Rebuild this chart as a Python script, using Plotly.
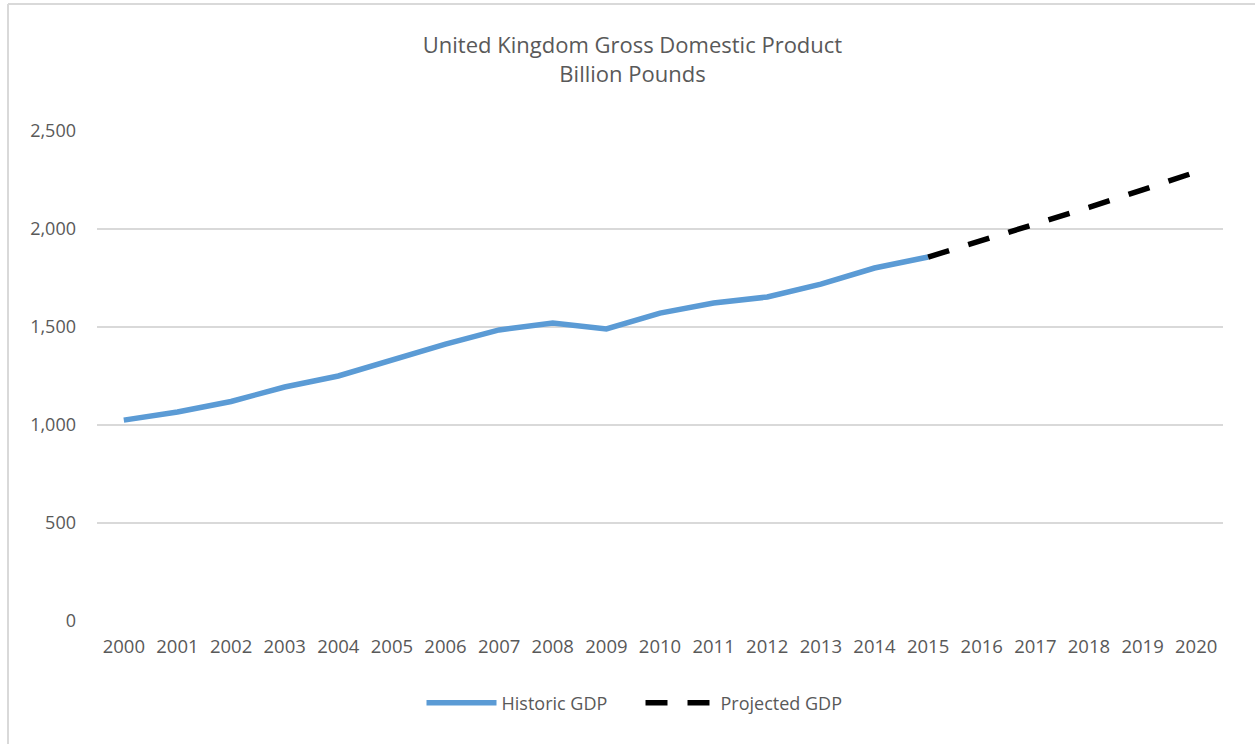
import plotly.graph_objects as go

years = [str(y) for y in range(2000, 2021)]
historic_gdp = [1025, 1066, 1120, 1194, 1250, 1332, 1413, 1485, 1520, 1490,
                1571, 1622, 1653, 1719, 1801, 1857,
                None, None, None, None, None]
projected_gdp = [None] * 15 + [1857, 1940, 2025, 2110, 2200, 2291]
y_ticks = [0, 500, 1000, 1500, 2000, 2500]
y_tick_labels = ["0", "500", "1,000", "1,500", "2,000", "2,500"]

W, H = 1255, 744
ML, MR, MT, MB = 97, 32, 131, 123
PW, PH = W - ML - MR, H - MT - MB

FONT = "Open Sans"
GRAY = "#595959"

fig = go.Figure()
fig.add_trace(go.Scatter(
    x=years, y=historic_gdp, mode="lines", name="Historic GDP",
    line=dict(color="#5B9BD5", width=5.5), connectgaps=False,
))
fig.add_trace(go.Scatter(
    x=years, y=projected_gdp, mode="lines", name="Projected GDP",
    line=dict(color="#000000", width=5.5, dash="22px,20px"), connectgaps=False,
))

def px_to_paper_x(px):
    return (px - ML) / PW

def px_to_paper_y(py):
    return (MT + PH - py) / PH

# outer chart border (top and left visible)
fig.add_shape(type="line", xref="paper", yref="paper",
              x0=px_to_paper_x(8), x1=px_to_paper_x(1258),
              y0=px_to_paper_y(4), y1=px_to_paper_y(4),
              line=dict(color="#D9D9D9", width=2))
fig.add_shape(type="line", xref="paper", yref="paper",
              x0=px_to_paper_x(8), x1=px_to_paper_x(8),
              y0=px_to_paper_y(4), y1=px_to_paper_y(748),
              line=dict(color="#D9D9D9", width=2))

fig.update_layout(
    width=W, height=H,
    margin=dict(l=ML, r=MR, t=MT, b=MB),
    paper_bgcolor="white", plot_bgcolor="white",
    font=dict(family=FONT, color=GRAY),
    title=dict(
        text="United Kingdom Gross Domestic Product<br>Billion Pounds",
        x=0.5 + 5 / W, xanchor="center", xref="container",
        y=1 - 53 / H, yanchor="top", yref="container",
        font=dict(family=FONT, size=22, color=GRAY),
    ),
    xaxis=dict(
        type="category", showgrid=False, zeroline=False, showline=False,
        ticks="", tickfont=dict(size=18.5, color=GRAY),
        ticklabelstandoff=12,
        range=[-0.5, len(years) - 0.5],
    ),
    yaxis=dict(
        range=[0, 2500], tickvals=y_ticks, ticktext=y_tick_labels,
        showgrid=True, gridcolor="#D9D9D9", gridwidth=1.5,
        zeroline=False, showline=False, ticks="",
        tickfont=dict(size=18, color=GRAY), ticklabelstandoff=20,
    ),
    legend=dict(
        orientation="h", x=0.5 + 13 / W, xanchor="center", xref="container",
        y=41 / H, yanchor="middle", yref="container",
        font=dict(family=FONT, size=18, color=GRAY),
        itemwidth=70, entrywidth=134, entrywidthmode="pixels",
        bgcolor="rgba(0,0,0,0)",
    ),
    showlegend=True,
)

fig.write_html("out.html")
